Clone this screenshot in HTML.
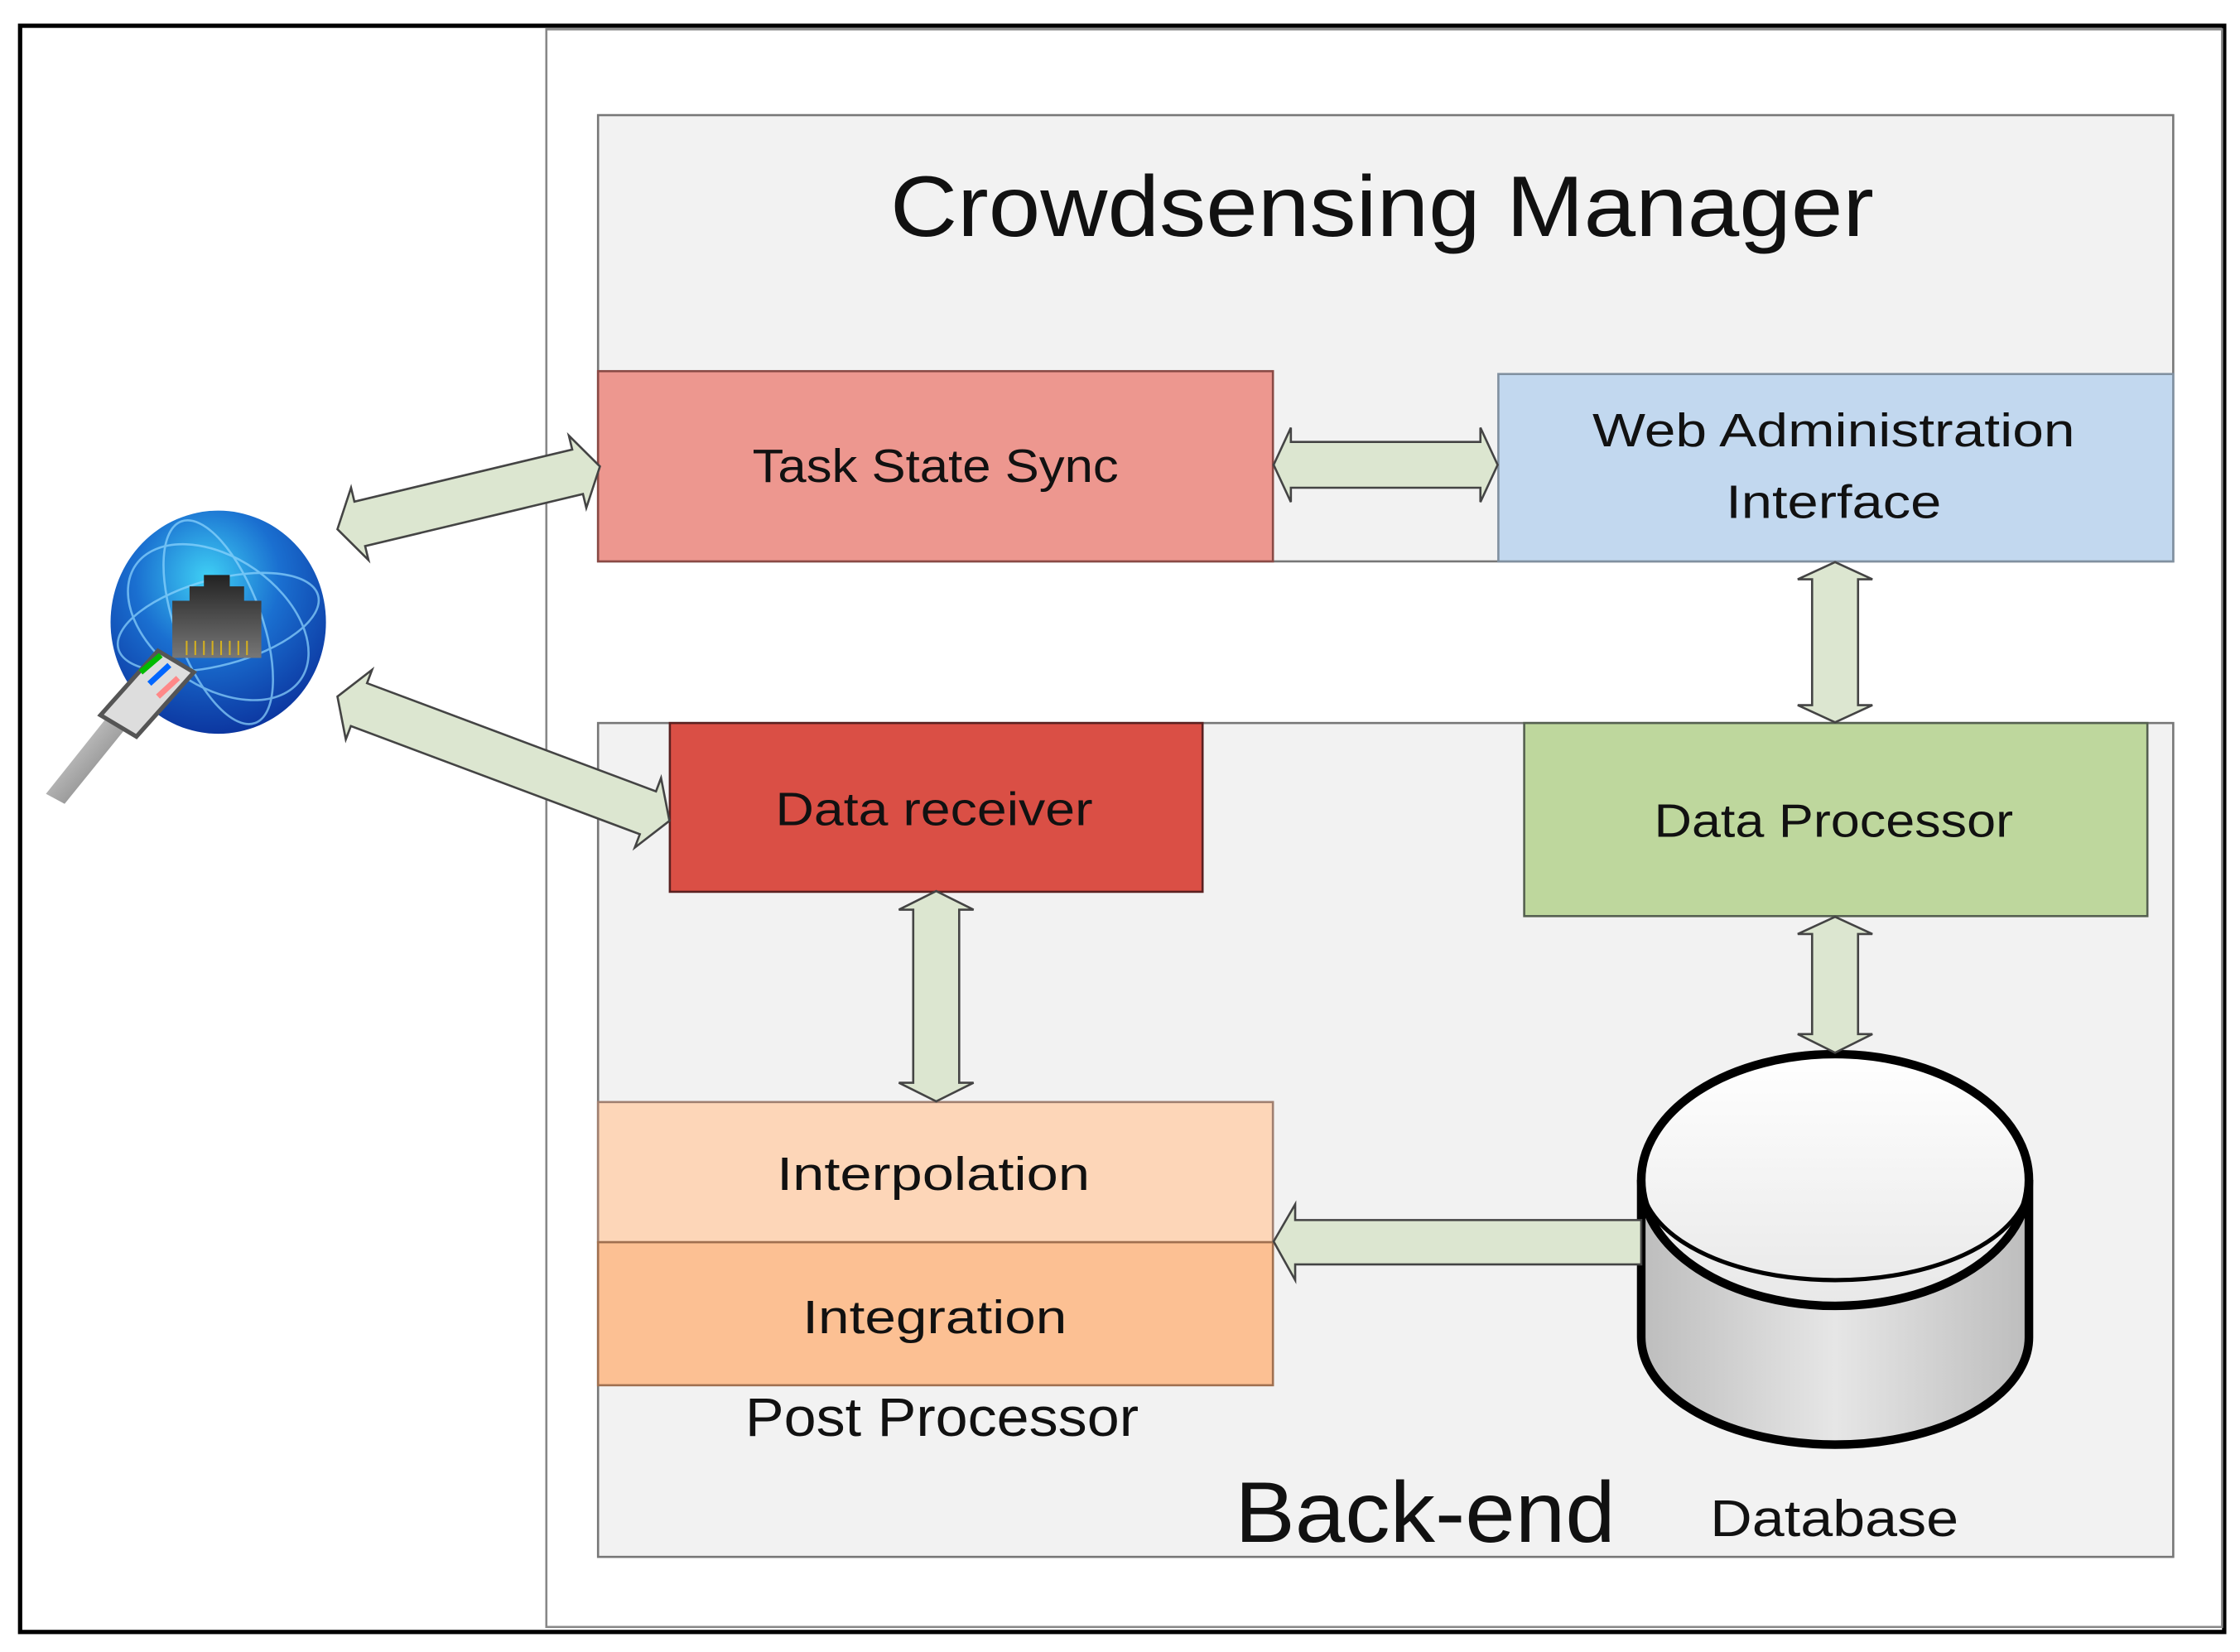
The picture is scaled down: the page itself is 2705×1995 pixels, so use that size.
<!DOCTYPE html>
<html><head><meta charset="utf-8"><style>
html,body{margin:0;padding:0;background:#fff}
svg{display:block}
text{font-family:"Liberation Sans",sans-serif;fill:#111}
</style></head><body>
<svg width="2705" height="1995" viewBox="0 0 1560 1155" preserveAspectRatio="none" xmlns="http://www.w3.org/2000/svg">
<defs>
<radialGradient id="gl" cx="0.45" cy="0.3" r="0.75">
<stop offset="0" stop-color="#3fd0f5"/><stop offset="0.45" stop-color="#1a6fd0"/><stop offset="1" stop-color="#0a2f9a"/>
</radialGradient>
<linearGradient id="cyl" x1="0" y1="0" x2="1" y2="0">
<stop offset="0" stop-color="#bdbdbd"/><stop offset="0.5" stop-color="#e6e6e6"/><stop offset="1" stop-color="#bdbdbd"/>
</linearGradient>
<linearGradient id="cylTop" x1="0" y1="0" x2="0" y2="1">
<stop offset="0" stop-color="#fff"/><stop offset="1" stop-color="#e8e8e8"/>
</linearGradient>
<linearGradient id="rj" x1="0" y1="0" x2="0" y2="1">
<stop offset="0" stop-color="#222"/><stop offset="1" stop-color="#777"/>
</linearGradient>
<linearGradient id="plug" x1="0" y1="0" x2="1" y2="1">
<stop offset="0" stop-color="#eee"/><stop offset="1" stop-color="#666"/>
</linearGradient>
</defs>
<rect x="0" y="0" width="1560" height="1155" fill="#fff"/>
<rect x="14" y="18" width="1535" height="1123" fill="none" stroke="#000" stroke-width="3"/>
<rect x="380.5" y="20.5" width="1167" height="1117" fill="none" stroke="#888" stroke-width="1.5"/>

<!-- Crowdsensing Manager -->
<rect x="416.5" y="80.5" width="1097" height="312" fill="#f2f2f2" stroke="#777" stroke-width="1.5"/>
<text x="620" y="165" font-size="60" textLength="685" lengthAdjust="spacingAndGlyphs">Crowdsensing Manager</text>
<rect x="416.5" y="259.5" width="470" height="133" fill="#ed978f" stroke="#8a4a45" stroke-width="1.5"/>
<text x="524" y="337" font-size="33" textLength="255" lengthAdjust="spacingAndGlyphs">Task State Sync</text>
<rect x="1043.5" y="261.5" width="470" height="131" fill="#c2d8ef" stroke="#8090a0" stroke-width="1.5"/>
<text x="1109" y="312" font-size="33" textLength="336" lengthAdjust="spacingAndGlyphs">Web Administration</text>
<text x="1202" y="362" font-size="33" textLength="150" lengthAdjust="spacingAndGlyphs">Interface</text>

<!-- Back-end -->
<rect x="416.5" y="505.5" width="1097" height="583" fill="#f2f2f2" stroke="#777" stroke-width="1.5"/>
<rect x="466.5" y="505.5" width="371" height="118" fill="#da4f45" stroke="#5a2020" stroke-width="1.5"/>
<text x="540" y="577" font-size="33" textLength="221" lengthAdjust="spacingAndGlyphs">Data receiver</text>
<rect x="1061.5" y="505.5" width="434" height="135" fill="#bed79d" stroke="#556050" stroke-width="1.5"/>
<text x="1152" y="585" font-size="33" textLength="250" lengthAdjust="spacingAndGlyphs">Data Processor</text>
<rect x="416.5" y="770.5" width="470" height="98" fill="#fdd6b8" stroke="#a08070" stroke-width="1.5"/>
<text x="541" y="832" font-size="33" textLength="218" lengthAdjust="spacingAndGlyphs">Interpolation</text>
<rect x="416.5" y="868.5" width="470" height="100" fill="#fcc093" stroke="#a07050" stroke-width="1.5"/>
<text x="559" y="932" font-size="33" textLength="184" lengthAdjust="spacingAndGlyphs">Integration</text>
<text x="519" y="1004" font-size="38" textLength="274" lengthAdjust="spacingAndGlyphs">Post Processor</text>
<text x="860" y="1078" font-size="60" textLength="265" lengthAdjust="spacingAndGlyphs">Back-end</text>
<text x="1191" y="1074" font-size="36" textLength="173" lengthAdjust="spacingAndGlyphs">Database</text>

<!-- Database cylinder -->
<path d="M1143,825 L1143,935 A135,75 0 0 0 1413,935 L1413,825" fill="url(#cyl)" stroke="#000" stroke-width="6"/>
<ellipse cx="1278" cy="825" rx="135" ry="88" fill="url(#cylTop)" stroke="#000" stroke-width="6"/>
<path d="M1143,825 A135,70 0 0 0 1413,825" fill="none" stroke="#000" stroke-width="3"/>

<!-- Arrows -->
<g fill="#dce6d0" stroke="#444" stroke-width="1.5">
<!-- TSS <-> WAI -->
<polygon points="887,325 899,299 899,309 1031,309 1031,299 1043,325 1031,351 1031,341 899,341 899,351"/>
<!-- WAI <-> DP -->
<polygon points="1278,393 1304,405 1294,405 1294,493 1304,493 1278,505 1252,493 1262,493 1262,405 1252,405"/>
<!-- DR <-> Interp -->
<polygon points="652,623 678,636 668,636 668,757 678,757 652,770 626,757 636,757 636,636 626,636"/>
<!-- DP <-> DB -->
<polygon points="1278,641 1304,653 1294,653 1294,723 1304,723 1278,736 1252,723 1262,723 1262,653 1252,653"/>
<!-- DB -> Post processor -->
<polygon points="887,868 902,842 902,853 1143,853 1143,884 902,884 902,895"/>
<!-- Diagonals -->
<g transform="translate(235,370) rotate(-13.5)">
<polygon points="0,0 16,-26 16,-16 172,-16 172,-26 188,0 172,26 172,16 16,16 16,26"/>
</g>
<g transform="translate(235,487) rotate(20.6)">
<polygon points="0,0 16,-26 16,-16 231,-16 231,-26 247,0 231,26 231,16 16,16 16,26"/>
</g>
</g>

<!-- Globe icon -->
<ellipse cx="152" cy="435" rx="75" ry="78" fill="url(#gl)"/>
<g fill="none" stroke="#8fd6ff" stroke-width="1.5" opacity="0.7">
<ellipse cx="152" cy="435" rx="72" ry="30" transform="rotate(-15 152 435)"/>
<ellipse cx="152" cy="435" rx="30" ry="75" transform="rotate(-20 152 435)"/>
<ellipse cx="152" cy="435" rx="70" ry="45" transform="rotate(35 152 435)"/>
</g>
<polygon points="120,420 132,420 132,410 142,410 142,402 160,402 160,410 170,410 170,420 182,420 182,460 120,460" fill="url(#rj)"/>
<g stroke="#d4b020" stroke-width="1.2">
<line x1="130" y1="448" x2="130" y2="458"/><line x1="136" y1="448" x2="136" y2="458"/><line x1="142" y1="448" x2="142" y2="458"/><line x1="148" y1="448" x2="148" y2="458"/><line x1="154" y1="448" x2="154" y2="458"/><line x1="160" y1="448" x2="160" y2="458"/><line x1="166" y1="448" x2="166" y2="458"/><line x1="172" y1="448" x2="172" y2="458"/>
</g>
<polygon points="32,555 45,562 95,500 82,492" fill="url(#plug)"/>
<polygon points="70,500 95,515 135,470 110,455" fill="#ddd" stroke="#555" stroke-width="3"/>
<line x1="98" y1="470" x2="112" y2="458" stroke="#0b0" stroke-width="4"/>
<line x1="104" y1="478" x2="118" y2="465" stroke="#06f" stroke-width="4"/>
<line x1="110" y1="487" x2="124" y2="474" stroke="#f88" stroke-width="4"/>
</svg>
</body></html>
